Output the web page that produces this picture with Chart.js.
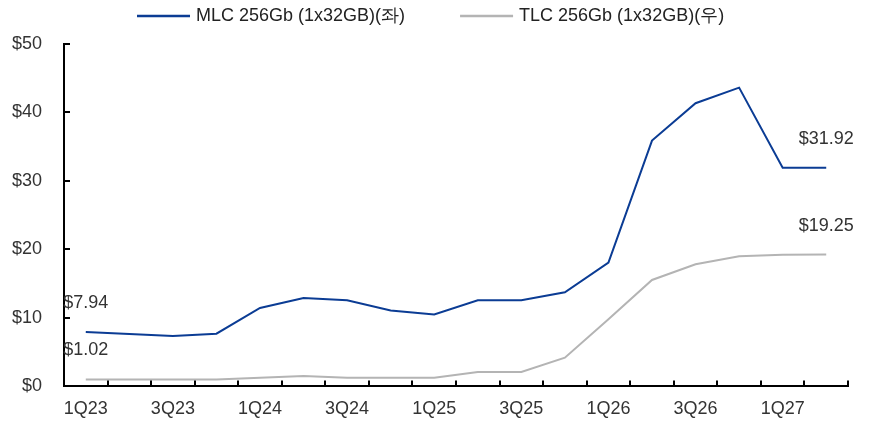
<!DOCTYPE html>
<html><head><meta charset="utf-8">
<script src="https://cdn.jsdelivr.net/npm/chart.js@4"></script>
<style>html,body{margin:0;padding:0;background:#fff}#wrap{width:870px;height:421px;position:relative}</style>
</head><body><div id="wrap"><canvas id="c"></canvas></div>
<script>
const quarters = ['1Q23','2Q23','3Q23','4Q23','1Q24','2Q24','3Q24','4Q24','1Q25','2Q25','3Q25','4Q25','1Q26','2Q26','3Q26','4Q26','1Q27','2Q27'];
const mlcValues = [7.94,7.65,7.36,7.70,11.45,12.90,12.57,11.10,10.50,12.57,12.57,13.74,18.07,35.90,41.35,43.63,31.92,31.92];
const tlcValues = [1.02,1.02,1.02,1.02,1.27,1.52,1.27,1.27,1.27,2.10,2.10,4.20,9.80,15.54,17.83,19.00,19.24,19.25];
const seriesNames = ['MLC 256Gb (1x32GB)(좌)','TLC 256Gb (1x32GB)(우)'];
const seriesColors = ['#0b3c94','#b4b4b4'];
const yMin = 0, yMax = 50, yStep = 10;

const FONT = "'Liberation Sans', Arial, sans-serif";

// inner tick marks on both axes
const innerTicks = {
  id: 'innerTicks',
  afterDatasetsDraw(chart) {
    const {ctx, chartArea: a, scales: {x, y}} = chart;
    ctx.save();
    ctx.strokeStyle = '#000';
    ctx.lineWidth = 2;
    ctx.beginPath();
    y.ticks.forEach(t => {
      if (t.value === yMin) return;
      const py = Math.round(y.getPixelForValue(t.value));
      ctx.moveTo(a.left, py); ctx.lineTo(a.left + 6, py);
    });
    const half = (x.getPixelForValue(1) - x.getPixelForValue(0)) / 2;
    for (let i = 0; i < quarters.length; i++) {
      const px = Math.round(x.getPixelForValue(i) + half);
      ctx.moveTo(px, a.bottom); ctx.lineTo(px, a.bottom - 6);
    }
    ctx.stroke();
    ctx.restore();
  }
};

// first / last value labels
const endLabels = {
  id: 'endLabels',
  afterDatasetsDraw(chart) {
    const {ctx} = chart;
    ctx.save();
    ctx.font = "18px " + FONT;
    ctx.fillStyle = '#333';
    ctx.textAlign = 'center';
    ctx.textBaseline = 'middle';
    chart.data.datasets.forEach((ds, di) => {
      const meta = chart.getDatasetMeta(di);
      [0, ds.data.length - 1].forEach(i => {
        const el = meta.data[i];
        ctx.fillText('$' + ds.data[i].toFixed(2), el.x, el.y - 29);
      });
    });
    ctx.restore();
  }
};

// legend (line sample + label), centred at the top
const topLegend = {
  id: 'topLegend',
  afterDraw(chart) {
    const {ctx} = chart;
    const lineW = 53, gapText = 6, gapItem = 55, cy = 16;
    ctx.save();
    ctx.font = "18px " + FONT;
    ctx.textBaseline = 'middle';
    ctx.textAlign = 'left';
    const items = chart.data.datasets.map(ds => ({text: ds.label, color: ds.borderColor, w: ctx.measureText(ds.label).width}));
    let total = 0;
    items.forEach((it, i) => { total += lineW + gapText + it.w + (i ? gapItem : 0); });
    let x = Math.round(431 - total / 2);
    items.forEach((it, i) => {
      if (i) x += gapItem;
      ctx.strokeStyle = it.color;
      ctx.lineWidth = 2.5;
      ctx.beginPath(); ctx.moveTo(x, cy); ctx.lineTo(x + lineW, cy); ctx.stroke();
      x += lineW + gapText;
      ctx.fillStyle = '#222';
      ctx.fillText(it.text, x, cy);
      x += it.w;
    });
    ctx.restore();
  }
};

new Chart(document.getElementById('c'), {
  type: 'line',
  data: {
    labels: quarters,
    datasets: [
      {label: seriesNames[0], data: mlcValues, borderColor: seriesColors[0], backgroundColor: seriesColors[0], borderWidth: 2, pointRadius: 0, tension: 0},
      {label: seriesNames[1], data: tlcValues, borderColor: seriesColors[1], backgroundColor: seriesColors[1], borderWidth: 2, pointRadius: 0, tension: 0}
    ]
  },
  options: {
    responsive: true,
    maintainAspectRatio: false,
    animation: false,
    layout: {padding: {top: 44, right: 22, bottom: 0, left: 0}},
    plugins: {
      legend: {display: false},
      tooltip: {enabled: false}
    },
    scales: {
      x: {
        offset: true,
        grid: {display: false, drawTicks: false},
        border: {display: true, color: '#000', width: 2},
        afterFit: s => { s.height = 34.6; },
        ticks: {
          autoSkip: false, maxRotation: 0, padding: 12,
          color: '#333', font: {family: FONT, size: 18},
          callback: (v, i) => (i % 2 === 0 ? quarters[i] : '')
        }
      },
      y: {
        min: yMin, max: yMax,
        grid: {display: false, drawTicks: false},
        border: {display: true, color: '#000', width: 2},
        afterFit: s => { s.width = 64; },
        ticks: {
          stepSize: yStep, padding: 22,
          color: '#333', font: {family: FONT, size: 18},
          callback: v => '$' + v
        }
      }
    }
  },
  plugins: [innerTicks, endLabels, topLegend]
});
</script>
</body></html>
